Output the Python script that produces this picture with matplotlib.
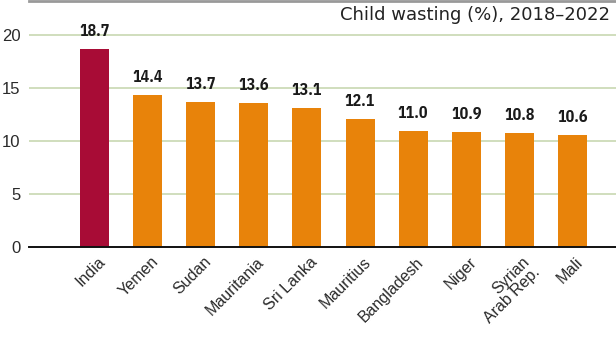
import numpy as np
import matplotlib.pyplot as plt
from matplotlib.transforms import ScaledTranslation

countries = ['India', 'Yemen', 'Sudan', 'Mauritania', 'Sri Lanka', 'Mauritius',
             'Bangladesh', 'Niger', 'Syrian\nArab Rep.', 'Mali']
wasting = [18.7, 14.4, 13.7, 13.6, 13.1, 12.1, 11.0, 10.9, 10.8, 10.6]
yticks = [0, 5, 10, 15, 20]

INDIA_RED = '#a80c36'
ORANGE = '#e8830a'
GRID_GREEN = '#cddbb8'

plt.rcParams['font.family'] = ['Liberation Sans', 'DejaVu Sans']
LABEL_FONT = ['IBM Plex Sans Condensed', 'Liberation Sans', 'DejaVu Sans']

fig = plt.figure(figsize=(6.16, 3.43), dpi=100)
ax = fig.add_axes([29.3 / 616, 95.7 / 343, 1 - 29.3 / 616, 246.3 / 343])

x = np.arange(len(countries))
colors = [INDIA_RED] + [ORANGE] * (len(countries) - 1)
ax.bar(x, wasting, width=0.546, color=colors, zorder=3)

for xi, v in zip(x, wasting):
    ax.text(xi, v + 0.95, f'{v:.1f}', ha='center', va='bottom',
            fontsize=11.5, fontweight='bold', color='#1a1a1a', zorder=4,
            family=LABEL_FONT)

ax.set_xlim(-1.23, 9.82)
ax.set_ylim(0, 23.23)

ax.set_yticks(yticks)
ax.set_yticklabels([str(t) for t in yticks], fontsize=12, color='#2a2a2a')
ax.tick_params(axis='y', length=0, pad=6.5)
for t in yticks[1:]:
    ax.axhline(t, color=GRID_GREEN, lw=1.3, zorder=1)

ax.set_xticks(x)
ax.set_xticklabels(countries, rotation=45, ha='right', va='top',
                   rotation_mode='anchor', fontsize=11.5, color='#2a2a2a',
                   linespacing=0.95)
ax.tick_params(axis='x', length=0, pad=5)
# nudge the slanted names a little to the right of each bar centre
shift = ScaledTranslation(2 / 72, 0, fig.dpi_scale_trans)
for lbl in ax.get_xticklabels():
    lbl.set_transform(lbl.get_transform() + shift)

for side in ['left', 'right']:
    ax.spines[side].set_visible(False)
ax.spines['bottom'].set_color('#111111')
ax.spines['bottom'].set_linewidth(1.4)
ax.spines['bottom'].set_zorder(5)
ax.spines['top'].set_color('#999999')
ax.spines['top'].set_linewidth(2.0)

ax.text(0.99, 0.945, 'Child wasting (%), 2018\u20132022', transform=ax.transAxes,
        ha='right', va='center', fontsize=13, color='#222222',
        family=['DejaVu Sans'])

fig.savefig('out.png', dpi=100)
